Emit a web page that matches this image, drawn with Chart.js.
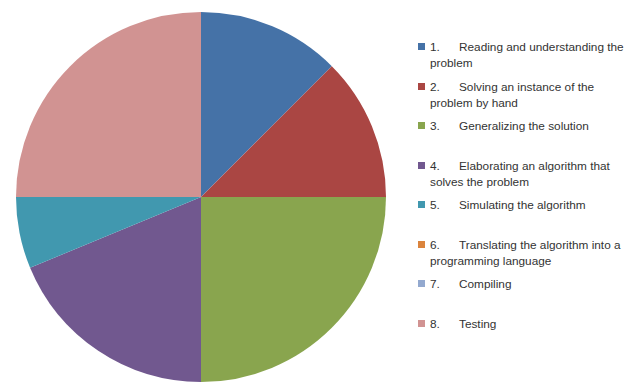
<!DOCTYPE html>
<html>
<head>
<meta charset="utf-8">
<script src="https://cdn.jsdelivr.net/npm/chart.js@4.4.0/dist/chart.umd.min.js"></script>
<style>
  html, body { margin: 0; padding: 0; background: #fff; }
  #wrap { position: relative; width: 640px; height: 382px; }
  #pieBox { position: absolute; left: 0; top: 0; width: 400px; height: 382px; }
  #legend { position: absolute; left: 418px; top: 39px; width: 222px; font-family: "Liberation Sans", Arial, sans-serif; font-size: 11.8px; color: #333; }
  .item { position: relative; height: 39.5px; line-height: 16px; }
  .sw { position: absolute; left: 0; top: 4px; width: 7px; height: 7px; }
  .txt { position: absolute; left: 12px; top: 0; width: 215px; white-space: pre-line; }
  .num { display: inline-block; width: 29px; }
</style>
</head>
<body>
<div id="wrap">
  <div id="pieBox"><canvas id="myChart"></canvas></div>
  <div id="legend"></div>
</div>
<script>
const steps = [
  'Reading and understanding the\nproblem',
  'Solving an instance of the\nproblem by hand',
  'Generalizing the solution',
  'Elaborating an algorithm that\nsolves the problem',
  'Simulating the algorithm',
  'Translating the algorithm into a\nprogramming language',
  'Compiling',
  'Testing'
];
const values = [2, 2, 4, 3, 1, 0, 0, 4];
const colors = ['#4572A7', '#AA4643', '#89A54E', '#71588F', '#4198AF', '#DB843D', '#93A9CF', '#D19392'];

let ctx = document.getElementById('myChart');

const chart = new Chart(ctx, {
  type: 'pie',
  data: {
    labels: steps.map((s, i) => (i + 1) + '. ' + s.replace('\n', ' ')),
    datasets: [{
      data: values,
      backgroundColor: colors,
      borderWidth: 0
    }]
  },
  options: {
    responsive: true,
    maintainAspectRatio: false,
    animation: false,
    layout: { padding: { left: 16, right: 14, top: 12, bottom: 0 } },
    plugins: {
      legend: { display: false },
      tooltip: { enabled: false }
    }
  }
});

// legend with wrapped text, built from the same arrays
const legend = document.getElementById('legend');
steps.forEach((s, i) => {
  const item = document.createElement('div');
  item.className = 'item';
  item.innerHTML = '<span class="sw" style="background:' + colors[i] + '"></span>' +
    '<div class="txt"><span class="num">' + (i + 1) + '.</span>' + s + '</div>';
  legend.appendChild(item);
});
</script>
</body>
</html>
